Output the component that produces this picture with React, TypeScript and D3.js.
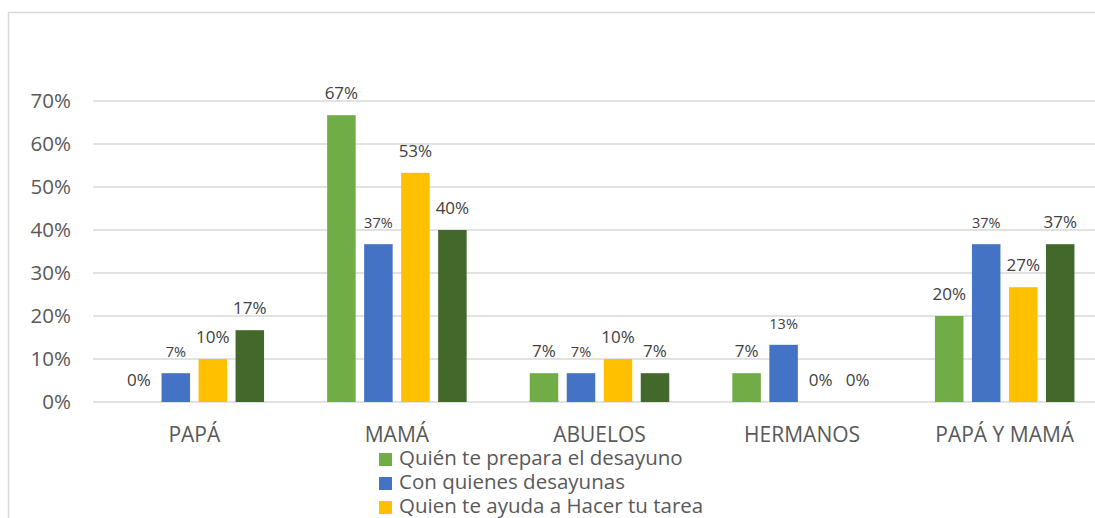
import React from "react";
import * as d3 from "d3";

const categories = ["PAPÁ", "MAMÁ", "ABUELOS", "HERMANOS", "PAPÁ Y MAMÁ"];
const seriesNames = [
  "Quién te prepara el desayuno",
  "Con quienes desayunas",
  "Quien te ayuda a Hacer tu tarea",
  "Quien te acompaña",
];
const seriesColors = ["#70AD47", "#4472C4", "#FFC000", "#43682B"];
const prepara = [0, 0.667, 0.067, 0.067, 0.2];
const desayunas = [0.067, 0.367, 0.067, 0.133, 0.367];
const tarea = [0.1, 0.533, 0.1, 0, 0.267];
const cuarta = [0.167, 0.4, 0.067, 0, 0.367];
const seriesValues = [prepara, desayunas, tarea, cuarta];
const yTicks = [0, 0.1, 0.2, 0.3, 0.4, 0.5, 0.6, 0.7];

const W = 1095;
const H = 518;
const FONT = "'Open Sans', sans-serif";

export default function App() {
  const plotLeft = 93;
  const plotRight = 1106;
  const y0 = 402;
  const y = d3.scaleLinear().domain([0, 0.7]).range([y0, 101]);
  const x = d3.scaleBand().domain(categories).range([plotLeft, plotRight]).paddingInner(0).paddingOuter(0);
  const bw = x.bandwidth();
  const barW = 28.5;
  const step = 37;
  const fmt = d3.format(".0%");

  return (
    <svg width={W} height={H} style={{ position: "absolute", left: 0, top: 0, background: "#fff" }} fontFamily={FONT}>
      <rect x={8.5} y={12.5} width={1200} height={600} fill="#fff" stroke="#d9d9d9" strokeWidth={1.5} />
      {yTicks.map((t) => (
        <g key={t}>
          <line x1={plotLeft} x2={plotRight} y1={y(t)} y2={y(t)} stroke="#d9d9d9" strokeWidth={1.3} />
          <text x={71} y={y(t)} dy="0.36em" textAnchor="end" fontSize={20.5} fill="#595959">
            {fmt(t)}
          </text>
        </g>
      ))}
      {categories.map((c, ci) => {
        const cx = (x(c) as number) + bw / 2;
        return (
          <g key={c}>
            {seriesValues.map((vals, si) => {
              const bx = cx - (step * 3 + barW) / 2 + si * step;
              const v = vals[ci];
              const small = si === 1;
              return (
                <g key={si}>
                  {v > 0 && (
                    <rect x={bx} y={y(v)} width={barW} height={y0 - y(v)} fill={seriesColors[si]} />
                  )}
                  <text
                    x={bx + barW / 2}
                    y={y(v) - 16}
                    textAnchor="middle"
                    fontSize={small ? 14.5 : 17}
                    fill="#404040"
                  >
                    {fmt(v)}
                  </text>
                </g>
              );
            })}
            <text x={cx} y={442} textAnchor="middle" fontSize={21} fill="#595959">
              {c}
            </text>
          </g>
        );
      })}
      {seriesNames.map((n, i) => (
        <g key={n} transform={`translate(379, ${465 + i * 24})`}>
          <rect x={0} y={-12} width={13} height={13} fill={seriesColors[i]} />
          <text x={20} y={0} fontSize={20.5} fill="#595959">
            {n}
          </text>
        </g>
      ))}
    </svg>
  );
}
